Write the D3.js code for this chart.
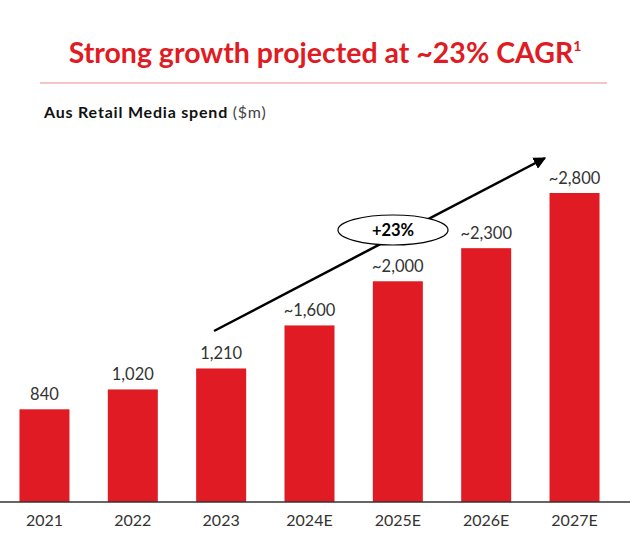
<!DOCTYPE html>
<html><head><meta charset="utf-8">
<script src="https://cdn.jsdelivr.net/npm/d3@7/dist/d3.min.js"></script>
<style>body{margin:0;background:#fff}svg{display:block}</style>
</head><body>
<script>
const categories = ["2021","2022","2023","2024E","2025E","2026E","2027E"];
const values = [840,1020,1210,1600,2000,2300,2800];
const valueLabels = ["840","1,020","1,210","~1,600","~2,000","~2,300","~2,800"];
const titleText = "Strong growth projected at ~23% CAGR";
const cagrLabel = "+23%";

const W = 630, H = 544, red = "#E01B23", dark = "#333";
const svg = d3.select("body").append("svg").attr("width", W).attr("height", H);
const font = "Lato, 'DejaVu Sans', sans-serif";

// title
const t = svg.append("text").attr("x", 325).attr("y", 63).attr("text-anchor","middle")
  .attr("font-family", font).attr("font-weight","bold").attr("font-size", 28.5).attr("fill", red);
t.append("tspan").text(titleText);
t.append("tspan").attr("font-size", 14).attr("dy", -12).text("1");
svg.append("line").attr("x1",40).attr("x2",607).attr("y1",83).attr("y2",83)
  .attr("stroke","#e98a8d").attr("stroke-width",1);

// subtitle
const st = svg.append("text").attr("x",44).attr("y",118).attr("font-family",font).attr("font-size",16)
  .attr("letter-spacing",0.8).attr("fill","#111");
st.append("tspan").attr("font-weight","bold").text("Aus Retail Media spend ");
st.append("tspan").attr("fill","#444").text("($m)");

const baseY = 502;
const x = d3.scaleBand().domain(categories).range([0.3, 618.7]).paddingInner(0.434).paddingOuter(0.217);
const y = d3.scaleLinear().domain([0, 2800]).range([baseY, 193]);

svg.append("g").selectAll("rect").data(values).join("rect")
  .attr("x",(d,i)=>x(categories[i])).attr("width",x.bandwidth())
  .attr("y",d=>y(d)).attr("height",d=>baseY-y(d)).attr("fill",red);

svg.append("g").selectAll("text").data(values).join("text")
  .attr("x",(d,i)=>x(categories[i])+x.bandwidth()/2).attr("y",d=>y(d)-9)
  .attr("text-anchor","middle").attr("font-family",font).attr("font-size",16.5).attr("fill",dark)
  .text((d,i)=>valueLabels[i]);

const ax = svg.append("g").attr("transform",`translate(0,${baseY})`)
  .call(d3.axisBottom(x).tickSize(0).tickPadding(13));
ax.select(".domain").attr("d","M0,0H630").attr("stroke",dark).attr("stroke-width",1.5);
ax.selectAll("text").attr("font-family",font).attr("font-size",16).attr("fill",dark);

// CAGR arrow
const defs = svg.append("defs");
defs.append("marker").attr("id","ah").attr("viewBox","0 0 10 10").attr("refX",9).attr("refY",5)
  .attr("markerWidth",5).attr("markerHeight",5).attr("orient","auto")
  .append("path").attr("d","M0,0L10,5L0,10Z").attr("fill","#000");
svg.append("line").attr("x1",214).attr("y1",331).attr("x2",545).attr("y2",158)
  .attr("stroke","#000").attr("stroke-width",2.5).attr("marker-end","url(#ah)");
svg.append("ellipse").attr("cx",393).attr("cy",230).attr("rx",55).attr("ry",15)
  .attr("fill","#fff").attr("stroke","#000").attr("stroke-width",1.2);
svg.append("text").attr("x",393).attr("y",236).attr("text-anchor","middle")
  .attr("font-family",font).attr("font-weight","bold").attr("font-size",16.5).attr("fill","#000").text(cagrLabel);
</script>
</body></html>
